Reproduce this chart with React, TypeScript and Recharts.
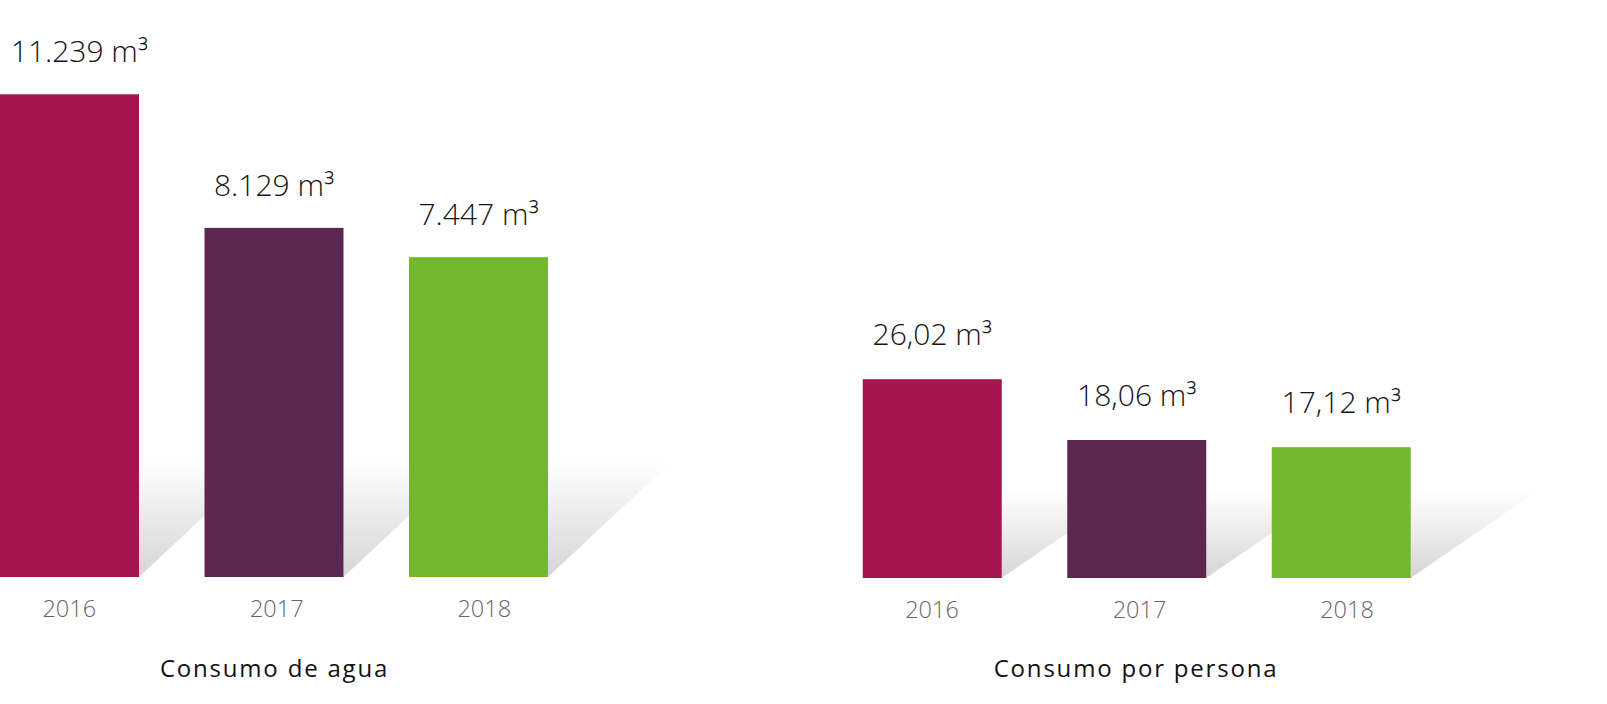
import React from 'react';
import { BarChart, Bar, XAxis, YAxis, Cell, LabelList } from 'recharts';

const years = ['2016', '2017', '2018'];
const waterTotal = [11239, 8129, 7447];
const waterTotalLabels = ['11.239 m³', '8.129 m³', '7.447 m³'];
const waterPerPerson = [26.02, 18.06, 17.12];
const waterPerPersonLabels = ['26,02 m³', '18,06 m³', '17,12 m³'];
const barColors = ['#A6144F', '#5C2750', '#74B72E'];
const titles = ['Consumo de agua', 'Consumo por persona'];

const FONT = '"Open Sans", sans-serif';

const totalData = years.map((y, i) => ({ year: y, value: waterTotal[i], label: waterTotalLabels[i] }));
const personData = years.map((y, i) => ({ year: y, value: waterPerPerson[i], label: waterPerPersonLabels[i] }));

function makeShape(shadowH: number, shadowW: number) {
  return (props: any) => {
    const { x, y, width, height, fill } = props;
    const right = x + width;
    const bottom = y + height;
    return (
      <g>
        <polygon
          points={`${right},${bottom - shadowH} ${right + shadowW},${bottom - shadowH} ${right},${bottom}`}
          fill="url(#shadowGrad)"
        />
        <rect x={x} y={y} width={width} height={height} fill={fill} />
      </g>
    );
  };
}

function makeValueLabel(labels: string[], gap: number, minX: number) {
  return (props: any) => {
    const { x, y, width, index } = props;
    const text = labels[index];
    const half = text.length * 7.6;
    const cx = Math.max(x + width / 2, minX + half);
    return (
      <text x={cx} y={y - gap} textAnchor="middle" fill="#151515" fontSize={30} fontFamily={FONT} fontWeight={300}>
        {text}
      </text>
    );
  };
}

const YearTick = (props: any) => {
  const { x, y, payload, index } = props;
  return (
    <text x={x + index * 3} y={y + 40} textAnchor="middle" fill="#666666" fontSize={23.5} fontFamily={FONT} fontWeight={300}>
      {payload.value}
    </text>
  );
};

export default function App() {
  return (
    <div style={{ position: 'absolute', left: 0, top: 0, width: 1607, height: 704, background: '#fff', overflow: 'hidden' }}>
      <svg width={1607} height={704} style={{ position: 'absolute', left: 0, top: 0 }}>
        <defs>
          <linearGradient id="shadowGrad" x1="0" y1="0" x2="0" y2="1">
            <stop offset="0%" stopColor="#ffffff" />
            <stop offset="100%" stopColor="#d5d5d5" />
          </linearGradient>
        </defs>
        <text x={274.5} y={677} textAnchor="middle" fill="#111" fontSize={24} letterSpacing={1.8} fontFamily={FONT} fontWeight={400}>
          {titles[0]}
        </text>
        <text x={1136} y={677} textAnchor="middle" fill="#111" fontSize={24} letterSpacing={1.8} fontFamily={FONT} fontWeight={400}>
          {titles[1]}
        </text>
      </svg>
      <div style={{ position: 'absolute', left: -33, top: 0 }}>
        <BarChart width={720} height={704} data={totalData} margin={{ top: 61.6, right: 106.5, left: 0, bottom: 67 }}>
          <XAxis dataKey="year" axisLine={false} tickLine={false} tickSize={0} tickMargin={0} height={60} tick={<YearTick />} interval={0} />
          <YAxis hide domain={[0, 12000]} />
          <Bar dataKey="value" barSize={139} isAnimationActive={false} shape={makeShape(116, 124)}>
            {totalData.map((d, i) => (
              <Cell key={d.year} fill={barColors[i]} />
            ))}
            <LabelList dataKey="label" content={makeValueLabel(waterTotalLabels, 32, 44)} />
          </Bar>
        </BarChart>
      </div>
      <div style={{ position: 'absolute', left: 800, top: 0 }}>
        <BarChart width={807} height={704} data={personData} margin={{ top: 348.8, right: 163.75, left: 29.75, bottom: 66 }}>
          <XAxis dataKey="year" axisLine={false} tickLine={false} tickSize={0} tickMargin={0} height={60} tick={<YearTick />} interval={0} />
          <YAxis hide domain={[0, 30]} />
          <Bar dataKey="value" barSize={139} isAnimationActive={false} shape={makeShape(86, 125)}>
            {personData.map((d, i) => (
              <Cell key={d.year} fill={barColors[i]} />
            ))}
            <LabelList dataKey="label" content={makeValueLabel(waterPerPersonLabels, 34, 0)} />
          </Bar>
        </BarChart>
      </div>
    </div>
  );
}
